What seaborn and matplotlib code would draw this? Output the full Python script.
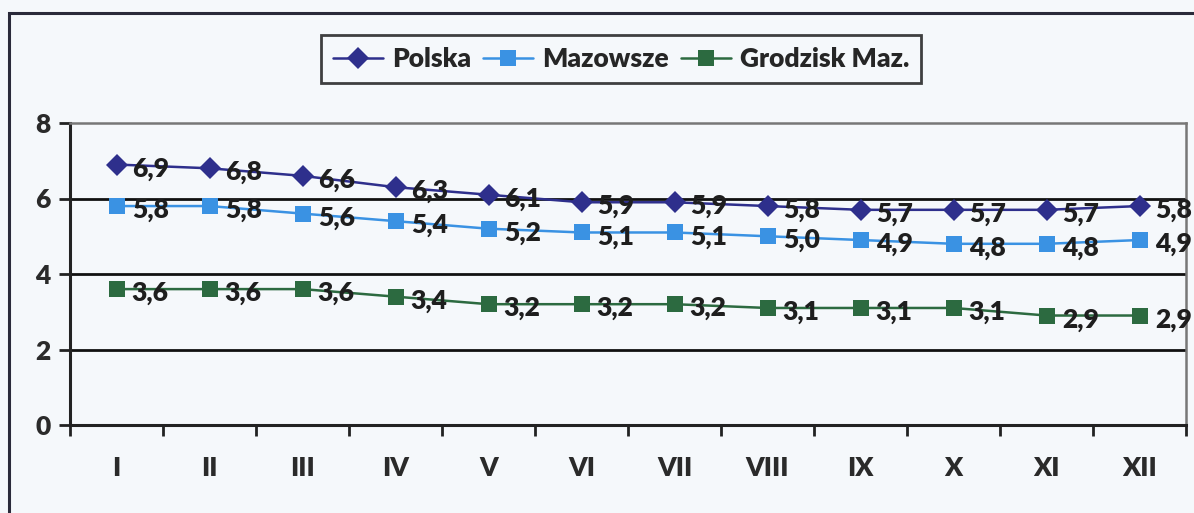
import pandas as pd
import matplotlib.pyplot as plt
from matplotlib.patches import Rectangle
from matplotlib.ticker import FixedLocator
import seaborn as sns

# dane
months = ['I', 'II', 'III', 'IV', 'V', 'VI', 'VII', 'VIII', 'IX', 'X', 'XI', 'XII']
series_names = ['Polska', 'Mazowsze', 'Grodzisk Maz.']
polska = [6.9, 6.8, 6.6, 6.3, 6.1, 5.9, 5.9, 5.8, 5.7, 5.7, 5.7, 5.8]
mazowsze = [5.8, 5.8, 5.6, 5.4, 5.2, 5.1, 5.1, 5.0, 4.9, 4.8, 4.8, 4.9]
grodzisk = [3.6, 3.6, 3.6, 3.4, 3.2, 3.2, 3.2, 3.1, 3.1, 3.1, 2.9, 2.9]
y_ticks = [0, 2, 4, 6, 8]

colors = {'Polska': '#2E2F8C', 'Mazowsze': '#3A92E3', 'Grodzisk Maz.': '#2C6A40'}
markers = {'Polska': 'D', 'Mazowsze': 's', 'Grodzisk Maz.': 's'}

rows = []
for name, vals in zip(series_names, [polska, mazowsze, grodzisk]):
    for i, v in enumerate(vals):
        rows.append({'idx': i, 'month': months[i], 'series': name, 'value': v})
df = pd.DataFrame(rows)

sns.set_theme(style='white')
plt.rcParams['font.family'] = ['Lato', 'DejaVu Sans']
plt.rcParams['font.weight'] = 'heavy'

bg = '#F5F8FB'
txt = '#1e1e1e'
fig = plt.figure(figsize=(11.94, 5.13), dpi=100, facecolor=bg)
ax = fig.add_axes([70 / 1194, 88 / 513, 1116 / 1194, 302 / 513])
ax.set_facecolor(bg)

sns.lineplot(data=df, x='idx', y='value', hue='series', style='series',
             hue_order=series_names, style_order=series_names,
             palette=colors, markers=markers, dashes=False,
             linewidth=1.8, markersize=11, markeredgewidth=0, ax=ax)

# etykiety danych
for name, vals in zip(series_names, [polska, mazowsze, grodzisk]):
    for i, v in enumerate(vals):
        ax.annotate(f'{v:.1f}'.replace('.', ','), (i, v), xytext=(11, -3),
                    textcoords='offset points', ha='left', va='center',
                    fontsize=19, fontweight='heavy', color=txt,
                    annotation_clip=False)

ax.set_xlim(-0.5, 11.5)
ax.set_ylim(0, 8)
ax.set_yticks(y_ticks)
ax.set_xticks(range(len(months)))
ax.set_xticklabels(months)
ax.xaxis.set_minor_locator(FixedLocator([i - 0.5 for i in range(13)]))
ax.tick_params(axis='x', which='major', length=0, pad=22, labelsize=19)
ax.tick_params(axis='x', which='minor', length=8, width=2, color='#222222', direction='out', bottom=True)
ax.tick_params(axis='y', which='major', length=8, width=2, color='#222222', direction='out', left=True,
               labelsize=19, pad=6)
for lbl in ax.get_xticklabels() + ax.get_yticklabels():
    lbl.set_fontweight('heavy')
    lbl.set_color('#2a2a2a')

ax.grid(False)
for y in [2, 4, 6]:
    ax.axhline(y, color='#111111', linewidth=2, zorder=0)
ax.set_xlabel('')
ax.set_ylabel('')

for side in ['left', 'bottom']:
    ax.spines[side].set_color('#222222')
    ax.spines[side].set_linewidth(2.2)
for side in ['top', 'right']:
    ax.spines[side].set_color('#777777')
    ax.spines[side].set_linewidth(1.8)

# legenda
handles, labels = ax.get_legend_handles_labels()
ax.get_legend().remove()
leg = fig.legend(handles, labels, loc='center', bbox_to_anchor=(621 / 1194, 1 - 59 / 513),
                 ncol=3, frameon=True, fancybox=False,
                 prop={'weight': 'heavy', 'size': 19}, handlelength=1.9,
                 handletextpad=0.35, columnspacing=0.45, borderpad=0.45,
                 borderaxespad=0.2, facecolor=bg)
leg.get_frame().set_edgecolor('#111111')
leg.get_frame().set_linewidth(2)

# ramka wykresu
fig.patches.append(Rectangle((9 / 1194, -0.05), 1.1, 1.05 - 13 / 513,
                             transform=fig.transFigure, fill=False,
                             edgecolor='#2a2a3a', linewidth=2.2))

fig.savefig('out.png', dpi=100, facecolor=bg)
